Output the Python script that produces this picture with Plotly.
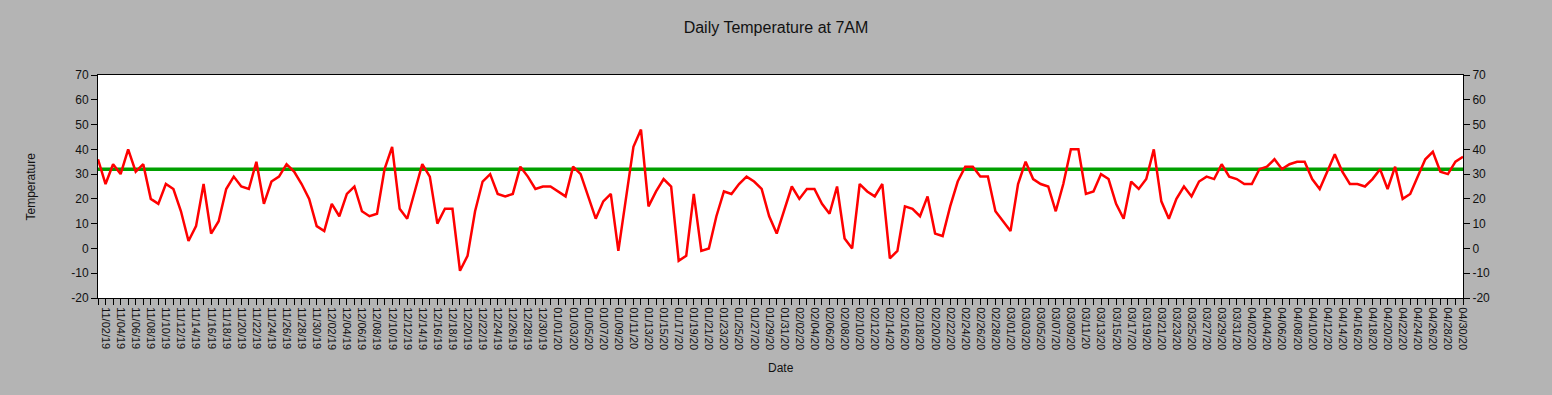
import pandas as pd
import plotly.graph_objects as go

# ---- data ----
dates = pd.date_range("2019-11-01", "2020-04-30", freq="D")
temps = [
    36, 26, 34, 30, 40, 31, 34, 20, 18, 26, 24, 15, 3, 9, 26, 6, 11, 24, 29, 25, 24,
    35, 18, 27, 29, 34, 31, 26, 20, 9, 7, 18, 13, 22, 25, 15, 13, 14, 32, 41, 16,
    12, 23, 34, 29, 10, 16, 16, -9, -3, 15, 27, 30, 22, 21, 22, 33, 29, 24, 25, 25, 23,
    21, 33, 30, 21, 12, 19, 22, -1, 20, 41, 48, 17, 23, 28, 25, -5, -3, 22, -1, 0, 13,
    23, 22, 26, 29, 27, 24, 13, 6, 16, 25, 20, 24, 24, 18, 14, 25, 4, 0, 26, 23,
    21, 26, -4, -1, 17, 16, 13, 21, 6, 5, 17, 27, 33, 33, 29, 29, 15, 11, 7, 26, 35,
    28, 26, 25, 15, 26, 40, 40, 22, 23, 30, 28, 18, 12, 27, 24, 28, 40, 19, 12, 20,
    25, 21, 27, 29, 28, 34, 29, 28, 26, 26, 32, 33, 36, 32, 34, 35, 35, 28, 24, 31, 38,
    31, 26, 26, 25, 28, 32, 24, 33, 20, 22, 29, 36, 39, 31, 30, 35, 37,
]
threshold = 32
y_range = [-20, 70]
y_ticks = [-20, -10, 0, 10, 20, 30, 40, 50, 60, 70]
y_ticktext = [str(v) for v in y_ticks]  # plain hyphen minus

FONT = "Liberation Sans, Arial, sans-serif"

fig = go.Figure()
fig.add_trace(go.Scatter(
    x=dates, y=[threshold] * len(dates), mode="lines",
    line=dict(color="#00a000", width=3.5), showlegend=False, hoverinfo="skip",
))
fig.add_trace(go.Scatter(
    x=dates, y=temps, mode="lines",
    line=dict(color="#ff0000", width=2.5), showlegend=False,
))

axis_common = dict(
    showgrid=False, zeroline=False, showline=True, linecolor="black", linewidth=1,
    ticks="outside", ticklen=6, tickcolor="black",
)

fig.update_layout(
    width=1552, height=395,
    paper_bgcolor="#b4b4b4", plot_bgcolor="white",
    margin=dict(l=98, r=89, t=75, b=97),
    font=dict(family=FONT, color="#111111", size=12),
    title=dict(text="Daily Temperature at 7AM", x=0.5, xanchor="center",
               y=1 - 27 / 395, yanchor="middle",
               font=dict(size=16, family=FONT, color="#111111")),
    xaxis=dict(
        type="date", range=[dates[0], dates[-1]],
        tick0="2019-11-02", dtick=2 * 86400000, tickformat="%m/%d/%y",
        tickangle=90, tickfont=dict(size=11), mirror=True,
        minor=dict(dtick=86400000, ticks="outside", ticklen=6, tickcolor="black", showgrid=False),
        **axis_common,
    ),
    yaxis=dict(range=y_range, tickmode="array", tickvals=y_ticks, ticktext=y_ticktext,
               tickfont=dict(size=12), **axis_common),
    yaxis2=dict(range=y_range, tickmode="array", tickvals=y_ticks, ticktext=y_ticktext,
                overlaying="y", side="right", matches="y",
                tickfont=dict(size=12), **axis_common),
    annotations=[
        dict(text="Temperature", textangle=-90, xref="paper", yref="paper",
             x=(30 - 98) / 1365, y=0.5, xanchor="center", yanchor="middle",
             showarrow=False, font=dict(size=12)),
        dict(text="Date", xref="paper", yref="paper", x=0.5, y=-(368 - 298.3) / 223.6,
             xanchor="center", yanchor="middle", showarrow=False, font=dict(size=12)),
    ],
)

# invisible trace so the right axis is rendered
fig.add_trace(go.Scatter(x=[dates[0]], y=[None], yaxis="y2", showlegend=False, hoverinfo="skip"))

fig.write_html("out.html",
               config={"displayModeBar": False},
               post_script="document.body.style.margin='0px';document.body.style.overflow='hidden';")
